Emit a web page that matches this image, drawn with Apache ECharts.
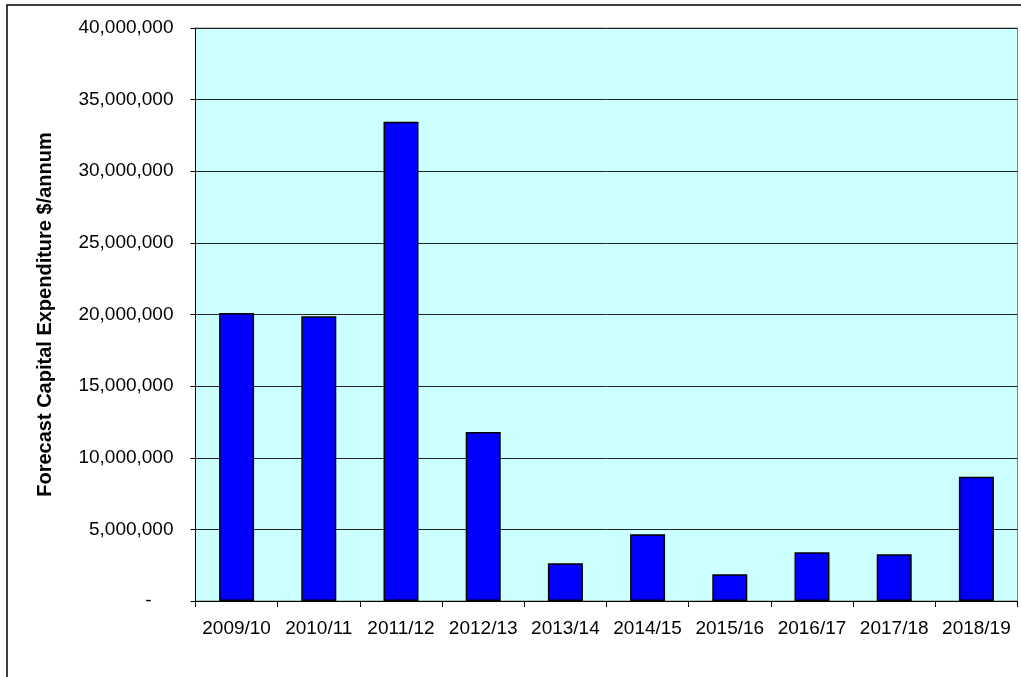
<!DOCTYPE html>
<html>
<head>
<meta charset="utf-8">
<script src="https://cdn.jsdelivr.net/npm/echarts@6/dist/echarts.min.js"></script>
<style>
  html, body { margin: 0; padding: 0; background: #ffffff; }
  #chart { width: 1021px; height: 677px; }
</style>
</head>
<body>
<div id="chart"></div>
<script>
// Forecast capital expenditure per financial year
const years = ['2009/10', '2010/11', '2011/12', '2012/13', '2013/14',
               '2014/15', '2015/16', '2016/17', '2017/18', '2018/19'];
const capex = [20100000, 19870000, 33460000, 11800000, 2630000,
               4660000, 1860000, 3400000, 3260000, 8680000];
const yMin = 0;
const yMax = 40000000;
const yStep = 5000000;
const yTitle = 'Forecast Capital Expenditure $/annum';

const FONT = '"Liberation Sans", Arial, sans-serif';

function fmtMoney(v) {
  if (v === 0) return '{z|-}';
  return v.toString().replace(/\B(?=(\d{3})+(?!\d))/g, ',');
}

const chart = echarts.init(document.getElementById('chart'), null, { renderer: 'canvas' });

chart.setOption({
  animation: false,
  backgroundColor: '#ffffff',
  textStyle: { fontFamily: FONT },
  graphic: [{
    type: 'rect',
    shape: { x: 7, y: 5, width: 1200, height: 800 },
    style: { fill: 'none', stroke: '#000000', lineWidth: 1.5 },
    silent: true,
    z: -1
  }],
  grid: {
    left: 195.5,
    right: 3.5,
    top: 28,
    bottom: 76,
    show: true,
    backgroundColor: '#CCFFFF',
    borderColor: '#808080',
    borderWidth: 1
  },
  xAxis: {
    type: 'category',
    data: years,
    boundaryGap: true,
    axisLine: { show: true, lineStyle: { color: '#000000', width: 1 } },
    axisTick: { show: true, alignWithLabel: false, length: 6, lineStyle: { color: '#000000' } },
    axisLabel: {
      color: '#000000',
      fontSize: 19,
      fontFamily: FONT,
      margin: 18,
      interval: 0
    },
    splitLine: { show: false }
  },
  yAxis: {
    type: 'value',
    min: yMin,
    max: yMax,
    interval: yStep,
    name: yTitle,
    nameLocation: 'middle',
    nameGap: 140,
    nameRotate: 90,
    nameTextStyle: {
      color: '#000000',
      fontSize: 20,
      fontWeight: 'bold',
      fontFamily: FONT
    },
    axisLine: { show: true, lineStyle: { color: '#000000', width: 1 } },
    axisTick: { show: true, length: 5, lineStyle: { color: '#000000' } },
    axisLabel: {
      color: '#000000',
      fontSize: 19,
      fontFamily: FONT,
      margin: 22,
      formatter: fmtMoney,
      rich: {
        z: { fontSize: 19, fontFamily: FONT, color: '#000000', padding: [0, 22, 0, 0] }
      }
    },
    splitLine: { show: true, lineStyle: { color: '#222222', width: 1 } }
  },
  series: [{
    type: 'bar',
    data: capex,
    barWidth: 35,
    itemStyle: {
      color: '#0000FF',
      borderColor: '#000000',
      borderWidth: 1.5
    }
  }]
});
</script>
</body>
</html>
